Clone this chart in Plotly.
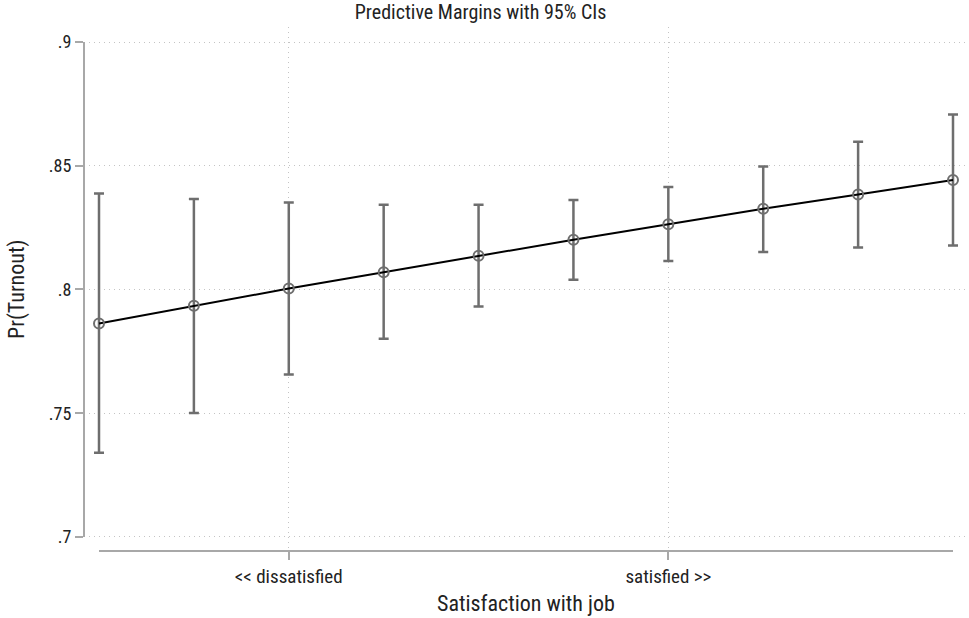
import plotly.graph_objects as go

# Data
satisfaction = [1, 2, 3, 4, 5, 6, 7, 8, 9, 10]
margin = [0.7863, 0.7934, 0.8004, 0.8070, 0.8136, 0.8201, 0.8264, 0.8326, 0.8384, 0.8442]
ci_upper = [0.8388, 0.8366, 0.8351, 0.8342, 0.8342, 0.8362, 0.8414, 0.8497, 0.8597, 0.8707]
ci_lower = [0.7340, 0.7501, 0.7657, 0.7801, 0.7931, 0.8039, 0.8115, 0.8152, 0.8170, 0.8178]
x_tickvals = [3, 7]
x_ticktext = ["<< dissatisfied", "satisfied >>"]
y_tickvals = [0.7, 0.75, 0.8, 0.85, 0.9]
y_ticktext = [".7", ".75", ".8", ".85", ".9"]

FONT = "Liberation Sans Narrow, Roboto Condensed, Roboto, sans-serif"
GRAY = "#6e6e6e"
AXIS = "#a8a8a8"
GRID = "#c4c4c4"

err_plus = [u - m for u, m in zip(ci_upper, margin)]
err_minus = [m - l for m, l in zip(margin, ci_lower)]

fig = go.Figure()
fig.add_trace(go.Scatter(
    x=satisfaction, y=margin,
    mode="lines+markers",
    line=dict(color="black", width=2),
    marker=dict(symbol="circle-open", size=10, color=GRAY, line=dict(width=2, color=GRAY)),
    error_y=dict(type="data", symmetric=False, array=err_plus, arrayminus=err_minus,
                 color=GRAY, thickness=2.5, width=5),
    showlegend=False,
))

xmin, xmax = satisfaction[0], satisfaction[-1]
pad = (xmax - xmin) * 15.0 / 854.0
fig.update_layout(
    width=969, height=618,
    margin=dict(l=84, r=1, t=27, b=67),
    paper_bgcolor="white", plot_bgcolor="white",
    font=dict(family=FONT, color="#222222", size=16),
    title=dict(text="Predictive Margins with 95% CIs", x=0.496, xanchor="center",
               y=1 - 12.0 / 618, yanchor="middle", font=dict(size=20, family=FONT)),
    xaxis=dict(range=[xmin - pad, xmax + pad], tickvals=x_tickvals, ticktext=x_ticktext,
               showgrid=True, gridcolor=GRID, griddash="1px,4px", gridwidth=1,
               zeroline=False, showline=False, ticks="outside", ticklen=8,
               tickcolor=AXIS, tickwidth=1.5, tickfont=dict(size=19, family=FONT)),
    yaxis=dict(range=[0.69434, 0.90606], tickvals=y_tickvals, ticktext=y_ticktext,
               showgrid=True, gridcolor=GRID, griddash="1px,4px", gridwidth=1,
               zeroline=False, showline=False, ticks="outside", ticklen=8,
               tickcolor=AXIS, tickwidth=1.5, tickfont=dict(size=18, family=FONT)),
    shapes=[
        dict(type="line", xref="paper", yref="y", x0=0, x1=0, y0=0.7, y1=0.9,
             line=dict(color=AXIS, width=2)),
        dict(type="line", xref="x", yref="paper", x0=xmin, x1=xmax, y0=0, y1=0,
             line=dict(color=AXIS, width=2)),
    ],
    annotations=[
        dict(text="Satisfaction with job", xref="paper", yref="paper", x=0.5, y=-0.0995,
             xanchor="center", yanchor="middle", showarrow=False, font=dict(size=22, family=FONT)),
        dict(text="Pr(Turnout)", xref="paper", yref="paper", x=-0.0758, y=0.5, textangle=-90,
             xanchor="center", yanchor="middle", showarrow=False, font=dict(size=22, family=FONT)),
    ],
)

fig.write_html("out.html", config={"displayModeBar": False},
               post_script="document.body.style.margin='0';")
